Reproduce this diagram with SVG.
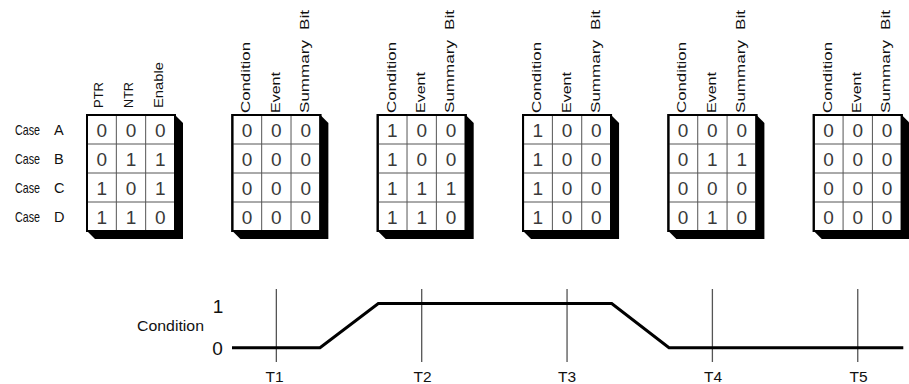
<svg xmlns="http://www.w3.org/2000/svg" width="909" height="384" viewBox="0 0 909 384">
<defs>
<style>
text{font-family:"Liberation Sans",Arial,sans-serif;fill:#111}
.hdr{font-size:13px}
.case{font-size:14.5px}
.d{font-size:19px;text-anchor:middle;fill:#3a3a3a}
.frame{fill:#fff;stroke:#000;stroke-width:2}
.grid{stroke:#555;stroke-width:1;fill:none}
.shadow{fill:#000}
.tl{stroke:#555;stroke-width:1.3;fill:none}
.trace{stroke:#000;stroke-width:3;fill:none;stroke-linejoin:miter}
.tlab{font-size:15.5px;text-anchor:middle}
</style>
<g id="tbl">
<polygon class="shadow" points="88,115 96,123 96,239 8,239 0,231"/>
<rect class="frame" x="0" y="115" width="88" height="116"/>
<path class="grid" d="M29.33,115V231M58.67,115V231M0,144H88M0,173H88M0,202H88"/>
<rect class="frame" x="0" y="115" width="88" height="116" style="fill:none"/>
</g>
</defs>

<g id="row-labels">
<text class="case"><tspan x="15" y="135" textLength="25" lengthAdjust="spacingAndGlyphs">Case</tspan><tspan x="54" y="135">A</tspan></text>
<text class="case"><tspan x="15" y="164" textLength="25" lengthAdjust="spacingAndGlyphs">Case</tspan><tspan x="54" y="164">B</tspan></text>
<text class="case"><tspan x="15" y="193" textLength="25" lengthAdjust="spacingAndGlyphs">Case</tspan><tspan x="54" y="193">C</tspan></text>
<text class="case"><tspan x="15" y="222" textLength="25" lengthAdjust="spacingAndGlyphs">Case</tspan><tspan x="54" y="222">D</tspan></text>
</g>

<g id="table1" transform="translate(87,0)">
<use href="#tbl"/>
<text class="hdr" transform="translate(15.5,108) rotate(-90)" textLength="26" lengthAdjust="spacingAndGlyphs">PTR</text>
<text class="hdr" transform="translate(46,108) rotate(-90)" textLength="26" lengthAdjust="spacingAndGlyphs">NTR</text>
<text class="hdr" transform="translate(76,108) rotate(-90)" textLength="46" lengthAdjust="spacingAndGlyphs">Enable</text>
<text class="d" x="14.67" y="136.5">0</text><text class="d" x="44" y="136.5">0</text><text class="d" x="73.33" y="136.5">0</text>
<text class="d" x="14.67" y="165.5">0</text><text class="d" x="44" y="165.5">1</text><text class="d" x="73.33" y="165.5">1</text>
<text class="d" x="14.67" y="194.5">1</text><text class="d" x="44" y="194.5">0</text><text class="d" x="73.33" y="194.5">1</text>
<text class="d" x="14.67" y="223.5">1</text><text class="d" x="44" y="223.5">1</text><text class="d" x="73.33" y="223.5">0</text>
</g>

<g id="table2" transform="translate(232.35,0)">
<use href="#tbl"/>
<text class="hdr" transform="translate(18,113) rotate(-90)" textLength="71" lengthAdjust="spacingAndGlyphs">Condition</text>
<text class="hdr" transform="translate(47.5,113) rotate(-90)" textLength="41" lengthAdjust="spacingAndGlyphs">Event</text>
<text class="hdr" transform="translate(76.5,113) rotate(-90)"><tspan x="0" y="0" textLength="73" lengthAdjust="spacingAndGlyphs">Summary</tspan><tspan x="83" y="0" textLength="20" lengthAdjust="spacingAndGlyphs">Bit</tspan></text>
<text class="d" x="14.67" y="136.5">0</text><text class="d" x="44" y="136.5">0</text><text class="d" x="73.33" y="136.5">0</text>
<text class="d" x="14.67" y="165.5">0</text><text class="d" x="44" y="165.5">0</text><text class="d" x="73.33" y="165.5">0</text>
<text class="d" x="14.67" y="194.5">0</text><text class="d" x="44" y="194.5">0</text><text class="d" x="73.33" y="194.5">0</text>
<text class="d" x="14.67" y="223.5">0</text><text class="d" x="44" y="223.5">0</text><text class="d" x="73.33" y="223.5">0</text>
</g>

<g id="table3" transform="translate(377.7,0)">
<use href="#tbl"/>
<text class="hdr" transform="translate(18,113) rotate(-90)" textLength="71" lengthAdjust="spacingAndGlyphs">Condition</text>
<text class="hdr" transform="translate(47.5,113) rotate(-90)" textLength="41" lengthAdjust="spacingAndGlyphs">Event</text>
<text class="hdr" transform="translate(76.5,113) rotate(-90)"><tspan x="0" y="0" textLength="73" lengthAdjust="spacingAndGlyphs">Summary</tspan><tspan x="83" y="0" textLength="20" lengthAdjust="spacingAndGlyphs">Bit</tspan></text>
<text class="d" x="14.67" y="136.5">1</text><text class="d" x="44" y="136.5">0</text><text class="d" x="73.33" y="136.5">0</text>
<text class="d" x="14.67" y="165.5">1</text><text class="d" x="44" y="165.5">0</text><text class="d" x="73.33" y="165.5">0</text>
<text class="d" x="14.67" y="194.5">1</text><text class="d" x="44" y="194.5">1</text><text class="d" x="73.33" y="194.5">1</text>
<text class="d" x="14.67" y="223.5">1</text><text class="d" x="44" y="223.5">1</text><text class="d" x="73.33" y="223.5">0</text>
</g>

<g id="table4" transform="translate(523.05,0)">
<use href="#tbl"/>
<text class="hdr" transform="translate(18,113) rotate(-90)" textLength="71" lengthAdjust="spacingAndGlyphs">Condition</text>
<text class="hdr" transform="translate(47.5,113) rotate(-90)" textLength="41" lengthAdjust="spacingAndGlyphs">Event</text>
<text class="hdr" transform="translate(76.5,113) rotate(-90)"><tspan x="0" y="0" textLength="73" lengthAdjust="spacingAndGlyphs">Summary</tspan><tspan x="83" y="0" textLength="20" lengthAdjust="spacingAndGlyphs">Bit</tspan></text>
<text class="d" x="14.67" y="136.5">1</text><text class="d" x="44" y="136.5">0</text><text class="d" x="73.33" y="136.5">0</text>
<text class="d" x="14.67" y="165.5">1</text><text class="d" x="44" y="165.5">0</text><text class="d" x="73.33" y="165.5">0</text>
<text class="d" x="14.67" y="194.5">1</text><text class="d" x="44" y="194.5">0</text><text class="d" x="73.33" y="194.5">0</text>
<text class="d" x="14.67" y="223.5">1</text><text class="d" x="44" y="223.5">0</text><text class="d" x="73.33" y="223.5">0</text>
</g>

<g id="table5" transform="translate(668.4,0)">
<use href="#tbl"/>
<text class="hdr" transform="translate(18,113) rotate(-90)" textLength="71" lengthAdjust="spacingAndGlyphs">Condition</text>
<text class="hdr" transform="translate(47.5,113) rotate(-90)" textLength="41" lengthAdjust="spacingAndGlyphs">Event</text>
<text class="hdr" transform="translate(76.5,113) rotate(-90)"><tspan x="0" y="0" textLength="73" lengthAdjust="spacingAndGlyphs">Summary</tspan><tspan x="83" y="0" textLength="20" lengthAdjust="spacingAndGlyphs">Bit</tspan></text>
<text class="d" x="14.67" y="136.5">0</text><text class="d" x="44" y="136.5">0</text><text class="d" x="73.33" y="136.5">0</text>
<text class="d" x="14.67" y="165.5">0</text><text class="d" x="44" y="165.5">1</text><text class="d" x="73.33" y="165.5">1</text>
<text class="d" x="14.67" y="194.5">0</text><text class="d" x="44" y="194.5">0</text><text class="d" x="73.33" y="194.5">0</text>
<text class="d" x="14.67" y="223.5">0</text><text class="d" x="44" y="223.5">1</text><text class="d" x="73.33" y="223.5">0</text>
</g>

<g id="table6" transform="translate(813.75,0)">
<use href="#tbl"/>
<text class="hdr" transform="translate(18,113) rotate(-90)" textLength="71" lengthAdjust="spacingAndGlyphs">Condition</text>
<text class="hdr" transform="translate(47.5,113) rotate(-90)" textLength="41" lengthAdjust="spacingAndGlyphs">Event</text>
<text class="hdr" transform="translate(76.5,113) rotate(-90)"><tspan x="0" y="0" textLength="73" lengthAdjust="spacingAndGlyphs">Summary</tspan><tspan x="83" y="0" textLength="20" lengthAdjust="spacingAndGlyphs">Bit</tspan></text>
<text class="d" x="14.67" y="136.5">0</text><text class="d" x="44" y="136.5">0</text><text class="d" x="73.33" y="136.5">0</text>
<text class="d" x="14.67" y="165.5">0</text><text class="d" x="44" y="165.5">0</text><text class="d" x="73.33" y="165.5">0</text>
<text class="d" x="14.67" y="194.5">0</text><text class="d" x="44" y="194.5">0</text><text class="d" x="73.33" y="194.5">0</text>
<text class="d" x="14.67" y="223.5">0</text><text class="d" x="44" y="223.5">0</text><text class="d" x="73.33" y="223.5">0</text>
</g>

<g id="chart">
<text x="218" y="313" style="font-size:19px;text-anchor:middle">1</text>
<text x="137" y="331" style="font-size:15px" textLength="67" lengthAdjust="spacingAndGlyphs">Condition</text>
<text x="217.5" y="355" style="font-size:19px;text-anchor:middle">0</text>
<path class="tl" d="M276.35,289V362M421.7,289V362M567.05,289V362M712.4,289V362M857.75,289V362"/>
<polyline class="trace" points="232,347.7 320,347.7 378.3,303.5 611.7,303.5 669,347.7 903.3,347.7"/>
<text class="tlab" x="274.5" y="382">T1</text>
<text class="tlab" x="422.5" y="382">T2</text>
<text class="tlab" x="567" y="382">T3</text>
<text class="tlab" x="713" y="382">T4</text>
<text class="tlab" x="858.5" y="382">T5</text>
</g>
</svg>
